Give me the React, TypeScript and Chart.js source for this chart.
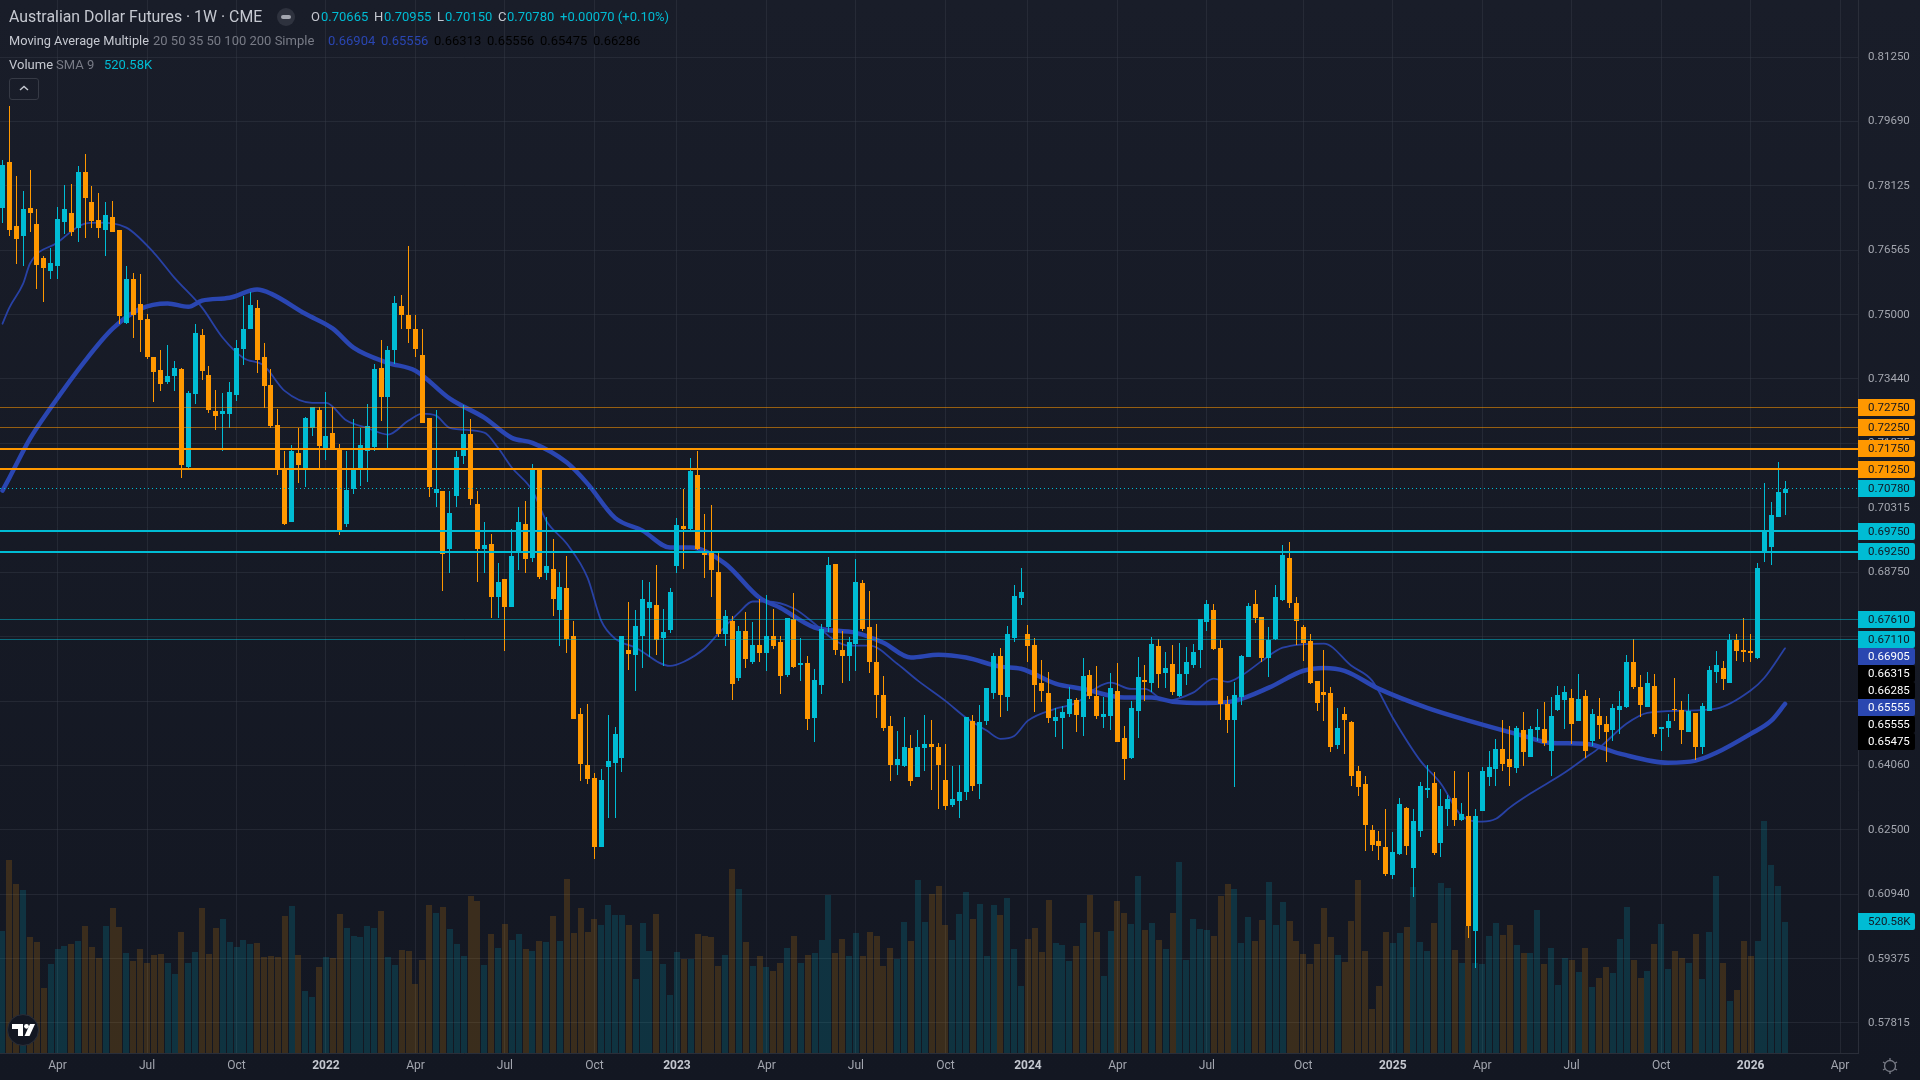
import { useEffect, useRef } from "react"
import { Chart, registerables } from "chart.js"

Chart.register(...registerables)

const opens = [
  0.7759,0.7871,0.7716,0.7691,0.7759,0.7721,0.7638,0.7607,0.7619,0.7725,
  0.7747,0.7711,0.7847,0.7774,0.7730,0.7706,0.7738,0.7706,0.7480,0.7587,
  0.7527,0.7490,0.7398,0.7366,0.7337,0.7352,0.7369,0.7131,0.7308,0.7451,
  0.7354,0.7265,0.7260,0.7260,0.7306,0.7417,0.7464,0.7517,0.7396,0.7330,
  0.7233,0.7124,0.6998,0.7165,0.7126,0.7225,0.7269,0.7177,0.7214,0.7172,
  0.6993,0.7078,0.7126,0.7170,0.7180,0.7371,0.7299,0.7413,0.7522,0.7500,
  0.7466,0.7403,0.7250,0.7068,0.7073,0.6932,0.7061,0.7158,0.7211,0.7041,
  0.6932,0.6944,0.6816,0.6859,0.6791,0.6922,0.6993,0.6910,0.7124,0.6872,
  0.6884,0.6784,0.6838,0.6721,0.6532,0.6408,0.6377,0.6209,0.6403,0.6413,
  0.6425,0.6687,0.6675,0.6721,0.6789,0.6796,0.6716,0.6736,0.6889,0.6988,
  0.6981,0.7112,0.6923,0.6923,0.6876,0.6726,0.6757,0.6619,0.6733,0.6658,
  0.6699,0.6680,0.6721,0.6707,0.6626,0.6762,0.6651,0.6656,0.6522,0.6602,
  0.6741,0.6896,0.6687,0.6673,0.6702,0.6850,0.6741,0.6658,0.6578,0.6503,
  0.6408,0.6406,0.6449,0.6379,0.6449,0.6459,0.6452,0.6372,0.6311,0.6321,
  0.6343,0.6515,0.6362,0.6515,0.6583,0.6673,0.6573,0.6716,0.6813,0.6726,
  0.6699,0.6607,0.6583,0.6515,0.6522,0.6532,0.6566,0.6525,0.6626,0.6575,
  0.6525,0.6527,0.6588,0.6474,0.6425,0.6539,0.6614,0.6607,0.6697,0.6631,
  0.6653,0.6575,0.6629,0.6651,0.6687,0.6755,0.6784,0.6692,0.6556,0.6517,
  0.6573,0.6670,0.6799,0.6767,0.6668,0.6714,0.6808,0.6910,0.6801,0.6743,
  0.6709,0.6612,0.6585,0.6583,0.6457,0.6532,0.6512,0.6394,0.6362,0.6250,
  0.6224,0.6209,0.6141,0.6192,0.6304,0.6158,0.6248,0.6347,0.6364,0.6219,
  0.6301,0.6328,0.6275,0.6284,0.6005,0.6296,0.6379,0.6398,0.6447,0.6423,
  0.6401,0.6493,0.6428,0.6493,0.6495,0.6442,0.6541,0.6566,0.6571,0.6513,
  0.6575,0.6466,0.6527,0.6508,0.6493,0.6542,0.6549,0.6658,0.6597,0.6549,
  0.6600,0.6495,0.6498,0.6544,0.6541,0.6488,0.6534,0.6452,0.6539,0.6634,
  0.6643,0.6607,0.6711,0.6687,0.6685,0.6668,0.6923,0.6937,0.7010,0.70665,
]

const highs = [
  0.7876,0.8007,0.7837,0.7801,0.7852,0.7757,0.7643,0.7662,0.7762,0.7815,
  0.7818,0.7861,0.7890,0.7813,0.7796,0.7774,0.7776,0.7706,0.7619,0.7602,
  0.7599,0.7502,0.7398,0.7413,0.7427,0.7388,0.7371,0.7315,0.7478,0.7466,
  0.7376,0.7318,0.7311,0.7337,0.7439,0.7546,0.7556,0.7536,0.7432,0.7369,
  0.7272,0.7170,0.7184,0.7225,0.7252,0.7277,0.7277,0.7313,0.7277,0.7187,
  0.7168,0.7248,0.7225,0.7284,0.7381,0.7439,0.7425,0.7544,0.7548,0.7667,
  0.7500,0.7464,0.7250,0.7269,0.7073,0.7073,0.7168,0.7281,0.7248,0.7071,
  0.6998,0.6969,0.6898,0.6859,0.6981,0.7034,0.7049,0.7138,0.7124,0.7010,
  0.6956,0.6876,0.6915,0.6757,0.6546,0.6556,0.6389,0.6398,0.6529,0.6500,
  0.6721,0.6804,0.6784,0.6857,0.6852,0.6893,0.6787,0.6838,0.7007,0.7078,
  0.7153,0.7168,0.7017,0.7037,0.6925,0.6784,0.6770,0.6745,0.6779,0.6755,
  0.6811,0.6821,0.6787,0.6721,0.6764,0.6825,0.6716,0.6673,0.6641,0.6750,
  0.6913,0.6896,0.6733,0.6718,0.6908,0.6857,0.6830,0.6750,0.6624,0.6527,
  0.6491,0.6525,0.6481,0.6493,0.6529,0.6517,0.6461,0.6459,0.6406,0.6408,
  0.6525,0.6529,0.6554,0.6595,0.6680,0.6692,0.6745,0.6843,0.6886,0.6748,
  0.6716,0.6663,0.6634,0.6546,0.6551,0.6597,0.6571,0.6668,0.6638,0.6648,
  0.6573,0.6631,0.6656,0.6503,0.6563,0.6670,0.6651,0.6718,0.6714,0.6682,
  0.6699,0.6704,0.6694,0.6702,0.6762,0.6808,0.6799,0.6711,0.6575,0.6609,
  0.6675,0.6801,0.6833,0.6767,0.6741,0.6843,0.6942,0.6949,0.6816,0.6748,
  0.6726,0.6612,0.6687,0.6597,0.6546,0.6549,0.6515,0.6406,0.6381,0.6263,
  0.6248,0.6301,0.6246,0.6328,0.6306,0.6301,0.6367,0.6408,0.6391,0.6350,
  0.6335,0.6394,0.6316,0.6391,0.6301,0.6403,0.6442,0.6471,0.6517,0.6503,
  0.6503,0.6537,0.6503,0.6544,0.6561,0.6573,0.6600,0.6600,0.6592,0.6629,
  0.6590,0.6544,0.6571,0.6527,0.6556,0.6588,0.6675,0.6714,0.6626,0.6634,
  0.6629,0.6500,0.6532,0.6619,0.6563,0.6580,0.6534,0.6558,0.6648,0.6685,
  0.6660,0.6724,0.6726,0.6764,0.6726,0.6898,0.7092,0.7046,0.7143,0.70955,
]

const lows = [
  0.7723,0.7691,0.7624,0.7619,0.7701,0.7563,0.7531,0.7587,0.7587,0.7696,
  0.7691,0.7675,0.7687,0.7709,0.7687,0.7643,0.7701,0.7478,0.7478,0.7444,
  0.7410,0.7393,0.7289,0.7315,0.7332,0.7315,0.7104,0.7129,0.7284,0.7342,
  0.7262,0.7221,0.7170,0.7225,0.7291,0.7379,0.7464,0.7359,0.7274,0.7225,
  0.7112,0.6990,0.6998,0.7092,0.7082,0.7206,0.7129,0.7148,0.7172,0.6966,
  0.6985,0.7066,0.7085,0.7095,0.7168,0.7243,0.7172,0.7381,0.7464,0.7432,
  0.7398,0.7238,0.7058,0.7034,0.6830,0.6872,0.7034,0.7138,0.7039,0.6852,
  0.6872,0.6764,0.6764,0.6685,0.6791,0.6881,0.6872,0.6901,0.6859,0.6855,
  0.6770,0.6697,0.6680,0.6520,0.6369,0.6362,0.6180,0.6209,0.6279,0.6279,
  0.6391,0.6638,0.6588,0.6643,0.6670,0.6675,0.6648,0.6728,0.6872,0.6884,
  0.6976,0.6930,0.6862,0.6816,0.6719,0.6697,0.6566,0.6612,0.6643,0.6653,
  0.6658,0.6636,0.6690,0.6580,0.6622,0.6643,0.6610,0.6493,0.6462,0.6580,
  0.6731,0.6675,0.6607,0.6612,0.6636,0.6733,0.6631,0.6522,0.6491,0.6369,
  0.6384,0.6403,0.6357,0.6379,0.6394,0.6347,0.6301,0.6299,0.6306,0.6279,
  0.6323,0.6345,0.6326,0.6505,0.6568,0.6525,0.6539,0.6706,0.6796,0.6658,
  0.6537,0.6561,0.6510,0.6476,0.6447,0.6525,0.6488,0.6478,0.6568,0.6520,
  0.6498,0.6493,0.6464,0.6372,0.6423,0.6474,0.6563,0.6585,0.6595,0.6593,
  0.6578,0.6573,0.6602,0.6643,0.6643,0.6733,0.6687,0.6517,0.6486,0.6355,
  0.6553,0.6670,0.6753,0.6658,0.6622,0.6711,0.6806,0.6789,0.6699,0.6660,
  0.6605,0.6539,0.6513,0.6440,0.6447,0.6435,0.6357,0.6333,0.6199,0.6199,
  0.6177,0.6139,0.6132,0.6190,0.6190,0.6088,0.6233,0.6328,0.6190,0.6185,
  0.6260,0.6260,0.6272,0.5988,0.5916,0.6296,0.6357,0.6357,0.6394,0.6357,
  0.6389,0.6406,0.6428,0.6466,0.6454,0.6381,0.6539,0.6495,0.6459,0.6513,
  0.6425,0.6454,0.6471,0.6415,0.6466,0.6483,0.6546,0.6592,0.6525,0.6549,
  0.6476,0.6442,0.6476,0.6513,0.6459,0.6488,0.6420,0.6435,0.6539,0.6607,
  0.6590,0.6607,0.6660,0.6658,0.6658,0.6665,0.6901,0.6893,0.7010,0.70150,
]

const closes = [
  0.7864,0.7706,0.7684,0.7757,0.7747,0.7621,0.7614,0.7626,0.7733,0.7757,
  0.7701,0.7847,0.7784,0.7728,0.7711,0.7742,0.7701,0.7497,0.7587,0.7500,
  0.7488,0.7398,0.7362,0.7332,0.7352,0.7371,0.7134,0.7311,0.7456,0.7364,
  0.7269,0.7255,0.7267,0.7313,0.7420,0.7466,0.7524,0.7391,0.7328,0.7231,
  0.7124,0.6993,0.7170,0.7134,0.7250,0.7277,0.7182,0.7206,0.7172,0.6978,
  0.7075,0.7124,0.7184,0.7231,0.7369,0.7301,0.7415,0.7529,0.7500,0.7464,
  0.7417,0.7238,0.7082,0.7078,0.6920,0.7019,0.7155,0.7211,0.7053,0.6932,
  0.6942,0.6816,0.6852,0.6791,0.6915,0.6998,0.6908,0.7129,0.6864,0.6891,
  0.6811,0.6840,0.6714,0.6520,0.6411,0.6374,0.6209,0.6372,0.6418,0.6483,
  0.6721,0.6677,0.6745,0.6811,0.6804,0.6711,0.6731,0.6828,0.6990,0.6981,
  0.7121,0.6932,0.6918,0.6881,0.6726,0.6770,0.6605,0.6733,0.6665,0.6699,
  0.6680,0.6721,0.6697,0.6624,0.6764,0.6646,0.6656,0.6520,0.6614,0.6738,
  0.6893,0.6687,0.6673,0.6707,0.6852,0.6738,0.6658,0.6578,0.6496,0.6408,
  0.6423,0.6452,0.6369,0.6452,0.6459,0.6452,0.6408,0.6309,0.6326,0.6343,
  0.6525,0.6357,0.6512,0.6593,0.6673,0.6578,0.6724,0.6818,0.6828,0.6697,
  0.6602,0.6588,0.6522,0.6525,0.6537,0.6568,0.6529,0.6624,0.6575,0.6527,
  0.6532,0.6593,0.6464,0.6423,0.6546,0.6622,0.6609,0.6702,0.6629,0.6643,
  0.6585,0.6629,0.6658,0.6682,0.6762,0.6799,0.6690,0.6556,0.6517,0.6578,
  0.6673,0.6794,0.6764,0.6668,0.6711,0.6816,0.6918,0.6801,0.6757,0.6704,
  0.6607,0.6559,0.6578,0.6452,0.6498,0.6517,0.6381,0.6355,0.6263,0.6214,
  0.6212,0.6144,0.6197,0.6313,0.6212,0.6272,0.6357,0.6352,0.6195,0.6309,
  0.6326,0.6275,0.6289,0.6018,0.6284,0.6394,0.6403,0.6445,0.6411,0.6403,
  0.6498,0.6440,0.6495,0.6500,0.6461,0.6527,0.6578,0.6585,0.6508,0.6568,
  0.6442,0.6532,0.6505,0.6488,0.6546,0.6551,0.6658,0.6597,0.6554,0.6607,
  0.6483,0.6500,0.6513,0.6541,0.6493,0.6539,0.6452,0.6551,0.6638,0.6651,
  0.6617,0.6711,0.6685,0.6682,0.6680,0.6886,0.6973,0.7014,0.7070,0.70780,
]

const volumesK = [
  486,768,673,649,462,442,260,355,414,426,
  434,446,506,422,379,506,577,502,399,367,
  414,359,391,395,359,315,482,359,402,577,
  395,498,534,442,422,450,434,438,383,387,
  383,545,585,391,248,224,343,383,379,553,
  498,466,462,506,498,565,383,351,410,406,
  275,371,589,557,581,494,434,387,625,605,
  351,474,418,514,450,474,414,406,446,442,
  545,446,692,478,577,482,534,510,589,549,
  549,510,295,518,406,553,355,232,402,375,
  375,474,466,462,347,391,732,653,442,347,
  387,343,327,359,418,466,359,391,399,450,
  629,399,454,387,478,387,482,466,347,418,
  375,522,446,688,522,633,665,510,450,553,
  641,534,593,387,589,549,617,414,267,454,
  498,402,609,438,430,367,426,518,629,482,
  307,486,605,557,514,704,490,518,450,414,
  557,760,371,534,494,490,466,625,673,653,
  438,542,446,530,681,510,601,526,446,395,
  355,434,577,462,391,363,526,688,406,176,
  267,482,438,478,502,658,442,406,518,677,
  657,410,359,506,359,355,466,518,470,510,
  430,399,399,569,355,418,271,379,371,323,
  418,263,299,343,319,454,581,371,299,327,
  434,514,335,406,379,359,474,295,482,704,
  359,208,252,446,387,446,923,748,665,520.58,
]

// moving averages at the bends
const ma20Bars = [0,1,3,4,8,12,14,18,22,25,29,32,35,38,41,45,47,50,53,56,59,61,63,65,70,72,74,77,79,82,85,87,89,92,97,99,102,104,107,109,111,115,118,121,123,126,130,133,137,140,143,145,147,149,153,156,159,161,164,166,169,173,176,178,180,183,186,192,196,199,202,206,209,212,215,217,219,222,227,230,232,236,239,244,249,254,256,259]
const ma20Values = [0.7478,0.7517,0.7575,0.7624,0.7675,0.7721,0.7723,0.7711,0.7650,0.7589,0.7517,0.7444,0.7395,0.7376,0.7315,0.7286,0.7286,0.7243,0.7225,0.7209,0.7243,0.7260,0.7255,0.7225,0.7214,0.7177,0.7129,0.7073,0.7000,0.6944,0.6862,0.6757,0.6714,0.6692,0.6648,0.6658,0.6690,0.6726,0.6777,0.6804,0.6804,0.6787,0.6750,0.6709,0.6697,0.6697,0.6653,0.6612,0.6563,0.6522,0.6491,0.6471,0.6478,0.6515,0.6544,0.6558,0.6595,0.6607,0.6592,0.6592,0.6563,0.6583,0.6617,0.6609,0.6624,0.6660,0.6692,0.6702,0.6648,0.6612,0.6522,0.6418,0.6362,0.6284,0.6270,0.6277,0.6304,0.6338,0.6389,0.6425,0.6449,0.6508,0.6534,0.6539,0.6544,0.6588,0.6619,0.66904]

const ma50Bars = [0,1,4,7,12,16,20,24,27,29,33,37,39,44,48,51,56,60,65,70,74,77,82,85,89,93,97,100,105,110,113,118,124,128,132,136,140,145,148,153,157,163,167,170,175,179,184,189,192,195,200,207,213,221,225,230,235,242,246,249,254,257,259]
const ma50Values = [0.7073,0.7104,0.7199,0.7274,0.7388,0.7466,0.7514,0.7527,0.7519,0.7534,0.7541,0.7561,0.7551,0.7502,0.7466,0.7420,0.7383,0.7364,0.7296,0.7250,0.7201,0.7189,0.7141,0.7090,0.7007,0.6976,0.6935,0.6935,0.6896,0.6813,0.6789,0.6741,0.6728,0.6704,0.6668,0.6675,0.6668,0.6646,0.6641,0.6605,0.6592,0.6571,0.6571,0.6561,0.6558,0.6563,0.6595,0.6636,0.6643,0.6636,0.6592,0.6546,0.6515,0.6478,0.6461,0.6459,0.6435,0.6413,0.6418,0.6437,0.6483,0.6515,0.65556]

const priceTicks = [0.8125,0.7969,0.78125,0.76565,0.75,0.7344,0.71875,0.70315,0.6875,0.67185,0.65625,0.6406,0.625,0.6094,0.59375,0.57815]
const hiddenPriceTicks = [0.67185,0.65625]

const timeTickBars = [8,21,34,47,60,73,86,98,111,124,137,149,162,175,189,202,215,228,241,254,267]
const timeTickLabels = ["Apr","Jul","Oct","2022","Apr","Jul","Oct","2023","Apr","Jul","Oct","2024","Apr","Jul","Oct","2025","Apr","Jul","Oct","2026","Apr"]

const resistanceLevels = [0.7275,0.7225]
const resistanceZones = [0.7175,0.7125]
const supportZones = [0.6975,0.6925]
const supportLevels = [0.6761,0.6711]
const lastClose = 0.7078

const priceTags = [
  { value: 0.7275, bg: "#ff9800", fg: "#131722" },
  { value: 0.7225, bg: "#ff9800", fg: "#131722" },
  { value: 0.7175, bg: "#ff9800", fg: "#131722" },
  { value: 0.7125, bg: "#ff9800", fg: "#131722" },
  { value: 0.7078, bg: "#00bcd4", fg: "#131722" },
  { value: 0.6975, bg: "#00bcd4", fg: "#131722" },
  { value: 0.6925, bg: "#00bcd4", fg: "#131722" },
  { value: 0.6761, bg: "#00bcd4", fg: "#131722" },
  { value: 0.6711, bg: "#00bcd4", fg: "#131722" },
  { value: 0.66905, bg: "#2a47b0", fg: "#ffffff" },
  { value: 0.66315, bg: "#000000", fg: "#ffffff" },
  { value: 0.66285, bg: "#000000", fg: "#ffffff" },
  { value: 0.65555, bg: "#2a47b0", fg: "#ffffff" },
  { value: 0.65555, bg: "#000000", fg: "#ffffff" },
  { value: 0.65475, bg: "#000000", fg: "#ffffff" },
]

const UP = "#00bcd4"
const DOWN = "#ff9800"
const BLUE = "#2a46b2"
const GRID = "rgba(58,62,74,0.42)"
const AXIS_TEXT = "#a3a6af"
const FONT = "Roboto"

const X_MIN = -0.363
const X_MAX = 269.6
const Y_MIN = 0.57087
const Y_MAX = 0.82633
const VOL_MAX = 4184

const isYear = (c: any) => /^20/.test(timeTickLabels[c.index] ?? "")

const flatLine = (value: number, color: string, width: number, dash: number[] = []) => ({
  type: "line" as const,
  data: [{ x: X_MIN, y: value }, { x: X_MAX, y: value }],
  borderColor: color,
  borderWidth: width,
  borderDash: dash,
  pointRadius: 0,
  order: 0,
})

const movingAverage = (bars: number[], values: number[], width: number, color: string) => ({
  type: "line" as const,
  data: bars.map((b, i) => ({ x: b, y: values[i] })),
  borderColor: color,
  borderWidth: width,
  borderJoinStyle: "round" as const,
  borderCapStyle: "round" as const,
  cubicInterpolationMode: "monotone" as const,
  pointRadius: 0,
  order: 3,
})

// keeps candles and level lines on whole pixels so they stay crisp
const snapPlugin = {
  id: "snapToPixels",
  afterDatasetsUpdate(chart: any) {
    chart.data.datasets.forEach((ds: any, idx: number) => {
      const meta = chart.getDatasetMeta(idx)
      if (meta.type === "bar") {
        const odd = ds.barThickness % 2 === 1
        meta.data.forEach((el: any) => {
          el.x = odd ? Math.floor(el.x) + 0.5 : Math.round(el.x)
          const top = Math.round(Math.min(el.y, el.base))
          const bottom = Math.max(Math.round(Math.max(el.y, el.base)), top + 1)
          el.y = top
          el.base = bottom
          el.height = bottom - top
        })
      } else if (ds.order === 0) {
        const odd = ds.borderWidth % 2 === 1
        meta.data.forEach((pt: any) => {
          pt.y = odd ? Math.floor(pt.y) + 0.5 : Math.round(pt.y)
        })
      }
    })
  },
}

const tagPlugin = {
  id: "priceTags",
  afterDraw(chart: any) {
    const { ctx, scales } = chart
    const left = scales.y.left
    const w = 57
    const h = 17
    ctx.save()
    ctx.font = `11.5px ${FONT}`
    ctx.textBaseline = "middle"
    let prev = -100
    const drawTag = (y: number, bg: string, fg: string, text: string) => {
      const top = Math.round(y - h / 2)
      ctx.fillStyle = bg
      ctx.beginPath()
      ctx.roundRect(left, top, w, h, [0, 2, 2, 0])
      ctx.fill()
      ctx.fillStyle = fg
      ctx.fillText(text, left + 10, top + h / 2 + 1)
    }
    priceTags.forEach((t) => {
      const y = Math.max(scales.y.getPixelForValue(t.value), prev + 17)
      prev = y
      drawTag(y, t.bg, t.fg, t.value.toFixed(5))
    })
    drawTag(scales.yv.getPixelForValue(volumesK[volumesK.length - 1]), UP, "#131722", "520.58K")
    ctx.restore()
  },
}

const Txt = ({ x, y, color, size = 13, children }: any) => (
  <span style={{ position: "absolute", left: x, top: y, color, fontSize: size, lineHeight: "16px", whiteSpace: "nowrap" }}>{children}</span>
)

const App = () => {
  const canvasRef = useRef<HTMLCanvasElement>(null)

  useEffect(() => {
    document.body.style.margin = "0"
    if (!canvasRef.current) return

    const bars = opens.map((_, i) => i)
    const colors = bars.map((i) => (closes[i] >= opens[i] ? UP : DOWN))
    const volColors = bars.map((i) => (closes[i] >= opens[i] ? "rgba(0,188,212,0.17)" : "rgba(255,152,0,0.17)"))

    const chart = new Chart(canvasRef.current, {
      type: "bar",
      data: {
        datasets: [
          ...resistanceLevels.map((v) => flatLine(v, "rgba(255,152,0,0.55)", 1)),
          ...resistanceZones.map((v) => flatLine(v, DOWN, 2)),
          ...supportZones.map((v) => flatLine(v, UP, 2)),
          ...supportLevels.map((v) => flatLine(v, "rgba(0,188,212,0.5)", 1)),
          flatLine(lastClose, UP, 1, [1, 3]),
          {
            data: bars.map((i) => ({ x: i, y: [opens[i], closes[i]] })),
            backgroundColor: colors,
            barThickness: 5,
            inflateAmount: 0,
            grouped: false,
            order: 1,
          },
          {
            data: bars.map((i) => ({ x: i, y: [lows[i], highs[i]] })),
            backgroundColor: colors,
            barThickness: 1,
            inflateAmount: 0,
            grouped: false,
            order: 2,
          },
          movingAverage(ma20Bars, ma20Values, 1.8, "rgba(42,70,178,0.9)"),
          movingAverage(ma50Bars, ma50Values, 4.5, BLUE),
          {
            data: bars.map((i) => ({ x: i, y: volumesK[i] })),
            backgroundColor: volColors,
            barThickness: 6,
            inflateAmount: 0,
            grouped: false,
            yAxisID: "yv",
            order: 5,
          },
        ] as any,
      },
      options: {
        animation: false,
        responsive: false,
        maintainAspectRatio: false,
        devicePixelRatio: 1,
        layout: { padding: 0 },
        plugins: { legend: { display: false }, tooltip: { enabled: false } },
        scales: {
          x: {
            type: "linear",
            min: X_MIN,
            max: X_MAX,
            offset: false,
            grid: { offset: false, color: GRID, drawTicks: false },
            border: { color: "#2a2e39" },
            afterFit: (s: any) => {
              s.height = 27
              s.paddingLeft = 0
              s.paddingRight = 0
            },
            afterBuildTicks: (s: any) => { s.ticks = timeTickBars.map((value) => ({ value })) },
            ticks: {
              autoSkip: false,
              maxRotation: 0,
              padding: 6,
              color: (c: any) => (isYear(c) ? "#c4c7cf" : AXIS_TEXT),
              font: (c: any) => ({ family: FONT, size: 12, weight: isYear(c) ? "bold" : "normal" }),
              callback: (_v: any, i: number) => timeTickLabels[i],
            },
          },
          y: {
            position: "right",
            min: Y_MIN,
            max: Y_MAX,
            grid: { color: GRID, drawTicks: false },
            border: { color: "#2a2e39" },
            afterFit: (s: any) => {
              s.width = 62
              s.paddingTop = 0
              s.paddingBottom = 0
            },
            afterBuildTicks: (s: any) => { s.ticks = priceTicks.map((value) => ({ value })) },
            ticks: {
              autoSkip: false,
              padding: 10,
              color: AXIS_TEXT,
              font: { family: FONT, size: 11.5 },
              callback: (v: any) => (hiddenPriceTicks.includes(v) ? "" : Number(v).toFixed(5)),
            },
          },
          yv: { display: false, min: 0, max: VOL_MAX, grid: { display: false } },
        },
      } as any,
      plugins: [snapPlugin, tagPlugin],
    })

    return () => {
      chart.destroy()
    }
  }, [])

  return (
    <div style={{ position: "relative", width: 1920, height: 1080, overflow: "hidden", fontFamily: FONT, background: "linear-gradient(#191d29, #131722)" }}>
      <canvas ref={canvasRef} width={1920} height={1080} style={{ position: "absolute", left: 0, top: 0 }} />

      <Txt x={9} y={9} color="#c5c8d0" size={15.85}>Australian Dollar Futures · 1W · CME</Txt>
      <span style={{ position: "absolute", left: 277, top: 8, width: 18, height: 18, borderRadius: 9, background: "#2e323e" }}>
        <span style={{ position: "absolute", left: 4, top: 7, width: 10, height: 4, borderRadius: 2, background: "#a3a6af" }} />
      </span>
      <Txt x={311} y={9} color="#c5c8d0">O</Txt><Txt x={321} y={9} color={UP}>0.70665</Txt>
      <Txt x={374} y={9} color="#c5c8d0">H</Txt><Txt x={384} y={9} color={UP}>0.70955</Txt>
      <Txt x={437} y={9} color="#c5c8d0">L</Txt><Txt x={445} y={9} color={UP}>0.70150</Txt>
      <Txt x={498} y={9} color="#c5c8d0">C</Txt><Txt x={507} y={9} color={UP}>0.70780</Txt>
      <Txt x={560} y={9} color={UP}>+0.00070 (+0.10%)</Txt>

      <Txt x={9} y={33} color="#c5c8d0" size={12.8}>Moving Average Multiple</Txt>
      <Txt x={153} y={33} color="#787b86">20 50 35 50 100 200 Simple</Txt>
      <Txt x={328} y={33} color={BLUE}>0.66904</Txt>
      <Txt x={381} y={33} color={BLUE}>0.65556</Txt>
      <Txt x={434} y={33} color="#000000">0.66313</Txt>
      <Txt x={487} y={33} color="#000000">0.65556</Txt>
      <Txt x={540} y={33} color="#000000">0.65475</Txt>
      <Txt x={593} y={33} color="#000000">0.66286</Txt>

      <Txt x={9} y={57} color="#c5c8d0">Volume</Txt>
      <Txt x={56} y={57} color="#787b86">SMA 9</Txt>
      <Txt x={104} y={57} color={UP}>520.58K</Txt>

      <div style={{ position: "absolute", left: 9, top: 78, width: 28, height: 20, border: "1px solid #363a45", borderRadius: 3 }}>
        <svg width="28" height="20" style={{ display: "block" }}>
          <path d="M10 11 L14 7.5 L18 11" fill="none" stroke="#c5c8d0" strokeWidth="1.4" />
        </svg>
      </div>

      <svg width="34" height="34" style={{ position: "absolute", left: 6, top: 1013 }}>
        <circle cx="17" cy="17" r="15.5" fill="#131722" stroke="#2a2e39" />
        <path d="M6 11 H17 V23 H12 V16 H6 Z" fill="#ffffff" />
        <circle cx="20.5" cy="13.3" r="2.4" fill="#ffffff" />
        <path d="M24 11 H29 L23.5 23 H18.5 Z" fill="#ffffff" />
      </svg>
      <svg width="20" height="20" style={{ position: "absolute", left: 1880, top: 1056 }}>
        <circle cx="10" cy="10" r="5.5" fill="none" stroke="#787b86" strokeWidth="1.3" />
        <path d="M10 2 V4.5 M10 15.5 V18 M3 6 L5.2 7.3 M14.8 12.7 L17 14 M3 14 L5.2 12.7 M14.8 7.3 L17 6" stroke="#787b86" strokeWidth="1.3" />
      </svg>
    </div>
  )
}

export default App
